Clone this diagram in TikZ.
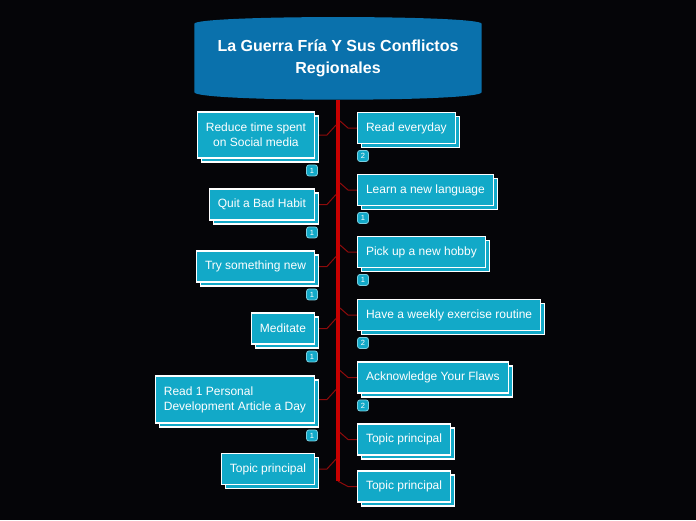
\documentclass[tikz,border=0pt]{standalone}
\usepackage{fontspec}
\setmainfont{Liberation Sans}
\usetikzlibrary{positioning,shadows,backgrounds,calc}
\definecolor{bgblack}{HTML}{050508}
\definecolor{topicblue}{HTML}{0A71AC}
\definecolor{nodeteal}{HTML}{12A9C8}
\definecolor{spinered}{HTML}{C80000}
\definecolor{linkred}{HTML}{8E0B0B}
\definecolor{badgeline}{HTML}{7CCFE0}
\tikzset{
  mainbox/.style={rectangle, minimum width=287pt, minimum height=83pt, inner sep=0pt, align=center, text=white, font=\bfseries\fontsize{16}{22}\selectfont},
  topicbox/.style={rectangle, draw=white, line width=1.1pt, fill=nodeteal, text=white, font=\fontsize{12}{15}\selectfont, minimum height=31pt, inner xsep=8.5pt, copy shadow={shadow xshift=4pt, shadow yshift=-4pt}},
  badge/.style={rectangle, rounded corners=2.5pt, draw=badgeline, line width=0.8pt, fill=nodeteal, text=white, minimum size=11pt, inner sep=0pt, font=\fontsize{7.5}{8}\selectfont},
  spine/.style={draw=spinered, line width=4.5pt},
  link/.style={draw=linkred, line width=1pt}
}

\begin{document}
\begin{tikzpicture}[x=1pt, y=-1pt]
\useasboundingbox (0,0) rectangle (696,520);
\begin{scope}[on background layer]
\fill[bgblack] (0,0) rectangle (696,520);
\end{scope}

% central topic
\node[mainbox] (topic) at (338,58.5) {La Guerra Fría Y Sus Conflictos\\Regionales};
\begin{scope}[on background layer]
\fill[topicblue] ([yshift=-7pt]topic.north west) .. controls ([yshift=2pt]topic.north west) and ([yshift=2pt]topic.north east) .. ([yshift=-7pt]topic.north east)
  -- ([yshift=8pt]topic.south east) .. controls ([yshift=-2pt]topic.south east) and ([yshift=-2pt]topic.south west) .. ([yshift=8pt]topic.south west) -- cycle;
\end{scope}
\coordinate (spinetop) at (topic.south);
\coordinate (spineend) at ($(topic.south)+(0,381)$);

% left side
\node[topicbox, anchor=east, minimum height=46pt, align=center] (L1) at (315,135) {Reduce time spent\\on Social media};
\node[topicbox, anchor=east] (L2) at (315,204.5) {Quit a Bad Habit};
\node[topicbox, anchor=east] (L3) at (315,266.5) {Try something new};
\node[topicbox, anchor=east] (L4) at (315,328.5) {Meditate};
\node[topicbox, anchor=east, minimum height=47pt, align=left] (L5) at (315,399.5) {Read 1 Personal\\Development Article a Day};
\node[topicbox, anchor=east] (L6) at (315,469) {Topic principal};

% right side
\node[topicbox, anchor=west] (R1) at (357,128) {Read everyday};
\node[topicbox, anchor=west] (R2) at (357,190) {Learn a new language};
\node[topicbox, anchor=west] (R3) at (357,252) {Pick up a new hobby};
\node[topicbox, anchor=west] (R4) at (357,315) {Have a weekly exercise routine};
\node[topicbox, anchor=west] (R5) at (357,377.5) {Acknowledge Your Flaws};
\node[topicbox, anchor=west] (R6) at (357,439.5) {Topic principal};
\node[topicbox, anchor=west] (R7) at (357,486.5) {Topic principal};

% counters
\node[badge, below=6pt of L1.south east, xshift=-3pt] (bL1) {1};
\node[badge, below=6pt of L2.south east, xshift=-3pt] (bL2) {1};
\node[badge, below=6pt of L3.south east, xshift=-3pt] (bL3) {1};
\node[badge, below=6pt of L4.south east, xshift=-3pt] (bL4) {1};
\node[badge, below=6pt of L5.south east, xshift=-3pt] (bL5) {1};
\node[badge, below=6pt of R1.south west, xshift=6pt] (bR1) {2};
\node[badge, below=6pt of R2.south west, xshift=6pt] (bR2) {1};
\node[badge, below=6pt of R3.south west, xshift=6pt] (bR3) {1};
\node[badge, below=6pt of R4.south west, xshift=6pt] (bR4) {2};
\node[badge, below=6pt of R5.south west, xshift=6pt] (bR5) {2};

\begin{scope}[on background layer]
\draw[spine] (topic.south) -- (spineend);
\foreach \i in {1,...,6}
  \draw[link] ($(L\i.east -| spinetop)+(-2,-10)$) -- ([xshift=12pt]L\i.east) -- (L\i.east);
\foreach \i in {1,...,6}
  \draw[link] ($(R\i.west -| spinetop)+(2,-7)$) -- ([xshift=-9pt]R\i.west) -- (R\i.west);
\draw[link] (spineend) -- ([xshift=-9pt]R7.west) -- (R7.west);
\end{scope}
\end{tikzpicture}
\end{document}
